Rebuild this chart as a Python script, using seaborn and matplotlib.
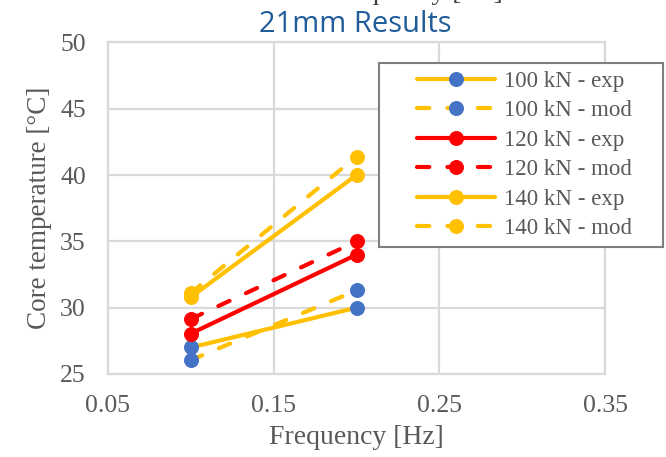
import matplotlib
matplotlib.use("Agg")
import matplotlib.pyplot as plt
from matplotlib.patches import Rectangle
import seaborn as sns
import pandas as pd

# ---- data ----
freq = [0.1, 0.2]
t100_exp = [27.0, 30.0]
t100_mod = [26.05, 31.3]
t120_exp = [28.05, 34.0]
t120_mod = [29.15, 35.0]
t140_exp = [30.8, 40.0]
t140_mod = [31.1, 41.4]
series_labels = ["100 kN - exp", "100 kN - mod", "120 kN - exp",
                 "120 kN - mod", "140 kN - exp", "140 kN - mod"]
x_ticks = [0.05, 0.15, 0.25, 0.35]
y_ticks = [25, 30, 35, 40, 45, 50]

sns.set_theme(style="white")
plt.rcParams["font.family"] = ["Liberation Serif", "DejaVu Serif"]

GOLD = "#FFC000"
BLUE = "#4472C4"
RED = "#FF0000"
GRID = "#D9D9D9"
TXT = "#595959"
W, H = 666, 457

fig = plt.figure(figsize=(6.66, 4.57), dpi=100)
ax = fig.add_axes([108 / W, 1 - 374 / H, (605 - 108) / W, (374 - 42.5) / H])

series = [t100_exp, t100_mod, t120_exp, t120_mod, t140_exp, t140_mod]
line_cols = [GOLD, GOLD, RED, RED, GOLD, GOLD]
mark_cols = [BLUE, BLUE, RED, RED, GOLD, GOLD]
dashed = [False, True, False, True, False, True]

for vals, lab, lc, mc, dsh in zip(series, series_labels, line_cols, mark_cols, dashed):
    df = pd.DataFrame({"Frequency": freq, "Temp": vals})
    sns.lineplot(data=df, x="Frequency", y="Temp", ax=ax, color=lc, marker="o",
                 markersize=10, markerfacecolor=mc, markeredgecolor=mc,
                 linewidth=3, label=lab, legend=False)
    ln = ax.lines[-1]
    ln.set_solid_capstyle("round")
    if dsh:
        ln.set_dashes((2.95, 4.35))
        ln.set_dash_capstyle("round")

ax.set_xlim(0.05, 0.35)
ax.set_ylim(25, 50)
ax.set_xticks(x_ticks)
ax.set_xticklabels([f"{v:.2f}" for v in x_ticks])
ax.set_yticks(y_ticks)
ax.set_yticklabels([str(v) for v in y_ticks])
ax.grid(True, color=GRID, linewidth=1.6)
ax.set_axisbelow(True)
for s in ax.spines.values():
    s.set_color(GRID)
    s.set_linewidth(1.6)
ax.tick_params(axis="both", length=0, labelsize=18.5, labelcolor=TXT)
ax.tick_params(axis="y", pad=16)
ax.tick_params(axis="x", pad=15)

ax.set_xlabel("Frequency [Hz]", fontsize=20, color=TXT, labelpad=6)
ax.set_ylabel("Core temperature [°C]", fontsize=19.5, color=TXT, labelpad=6)

fig.text(355 / W, 1 - 25 / H, "21mm Results", ha="center", va="center",
         fontsize=21, color="#1F5C99", family=["Open Sans", "DejaVu Sans"])
# clipped remnant of an axis title from a chart above
fig.text(503 / W, 1 + 1 / H, "Frequency [Hz]", ha="right", va="baseline",
         fontsize=20, color="#404040")

# legend frame
fig.add_artist(Rectangle((379 / W, 1 - 247 / H), (663 - 379) / W, (247 - 62.5) / H,
                         transform=fig.transFigure, facecolor="white",
                         edgecolor="#7F7F7F", linewidth=1.5, zorder=3))

handles = ax.lines[:6]
leg = fig.legend(handles, series_labels, loc="center left",
                 bbox_to_anchor=(417 / W, 1 - 155 / H),
                 borderaxespad=0, borderpad=0, fontsize=16.5, frameon=False,
                 handlelength=3.4, handletextpad=0.4, labelspacing=0.37)
leg.set_zorder(4)
for t in leg.get_texts():
    t.set_color(TXT)

fig.savefig("out.png", dpi=100)
